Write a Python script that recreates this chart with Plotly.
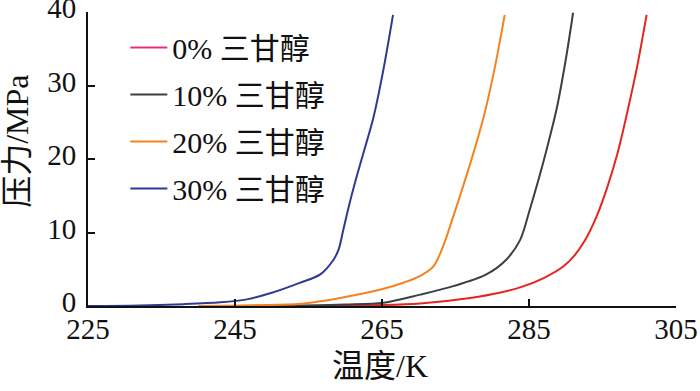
import plotly.graph_objects as go

# Data (temperature K, pressure MPa)
t_0 = [245, 255, 265, 270.2, 277, 281, 284, 287, 289.7, 291.2, 292.6, 294.2, 295.6, 297.1, 298.4, 299.7, 301]
p_0 = [0.0, 0.02, 0.12, 0.34, 1.1, 1.8, 2.6, 3.8, 5.4, 6.9, 8.9, 12.2, 16.0, 21.0, 26.5, 32.5, 39.6]

t_10 = [245, 255, 260, 265.2, 270.2, 274.7, 279.2, 281.9, 283.8, 285.1, 286.3, 287.4, 288.8, 290, 291]
p_10 = [0.0, 0.08, 0.2, 0.45, 1.55, 2.7, 4.3, 6.3, 9.0, 13.1, 17.2, 21.3, 27.0, 33.5, 39.9]

t_20 = [240, 248, 254, 259.3, 264.7, 268, 270.2, 272.0, 273.3, 274.7, 276.1, 277.5, 278.9, 280.3, 281.7]
p_20 = [0.0, 0.1, 0.3, 1.1, 2.2, 3.2, 4.1, 5.4, 8.1, 12.2, 16.5, 21.0, 26.0, 32.2, 39.6]

t_30 = [225, 232, 238, 243, 246.6, 250, 253.8, 256.6, 258.4, 259.1, 259.7, 260.5, 261.5, 262.7, 263.8, 265.2, 266.5]
p_30 = [0.0, 0.08, 0.25, 0.5, 0.9, 1.8, 3.15, 4.3, 6.3, 7.7, 10.2, 13.6, 17.4, 21.6, 25.5, 32.2, 39.6]

names = ["0% 三甘醇", "10% 三甘醇", "20% 三甘醇", "30% 三甘醇"]
x_ticks = [225, 245, 265, 285, 305]
y_ticks = [0, 10, 20, 30, 40]
x_title = "温度/K"
y_title = "压力/MPa"

curve_colors = ["#e3261f", "#3b4046", "#f5821f", "#2e3a8f"]
legend_colors = ["#e5317c", "#3b4046", "#f5821f", "#2e3a8f"]

series = [(t_0, p_0), (t_10, p_10), (t_20, p_20), (t_30, p_30)]

FONT = "Liberation Serif, Times New Roman, Noto Sans CJK SC, serif"

fig = go.Figure()
for i, (tx, py) in enumerate(series):
    fig.add_trace(go.Scatter(
        x=tx, y=py, mode="lines", name=names[i], showlegend=False,
        line=dict(color=curve_colors[i], width=2, shape="spline", smoothing=0.9),
        cliponaxis=False,
    ))
for i, nm in enumerate(names):
    fig.add_trace(go.Scatter(
        x=[None], y=[None], mode="lines", name=nm, legendgroup=f"g{i}",
        line=dict(color=legend_colors[i], width=2),
    ))

fig.update_layout(
    width=700, height=391,
    margin=dict(l=88, r=24, t=12, b=84.5, autoexpand=False),
    plot_bgcolor="white", paper_bgcolor="white",
    font=dict(family=FONT, size=28, color="#111"),
    showlegend=True,
    legend=dict(x=0.0635, y=0.968, xanchor="left", yanchor="top",
                bgcolor="rgba(0,0,0,0)", tracegroupgap=5, itemwidth=37,
                font=dict(size=30, family=FONT)),
    xaxis=dict(range=[225, 305], tickvals=x_ticks, ticks="inside", ticklen=7,
               tickwidth=1.5, tickcolor="#111", showline=True, linecolor="#111",
               linewidth=2, showgrid=False, zeroline=False, automargin=False,
               ticklabeloverflow="allow", ticklabelstandoff=-4,
               tickfont=dict(size=29, family=FONT)),
    yaxis=dict(range=[0, 40], tickvals=y_ticks, ticks="inside", ticklen=7,
               tickwidth=1.5, tickcolor="#111", showline=True, linecolor="#111",
               linewidth=2, showgrid=False, zeroline=False, automargin=False,
               ticklabeloverflow="allow", ticklabelstandoff=4, ticklabelshift=-4,
               tickfont=dict(size=29, family=FONT)),
    annotations=[
        dict(text=x_title, xref="paper", yref="paper", x=(380 - 88) / 588,
             y=-(367 - 306.5) / 294.5, xanchor="center", yanchor="middle",
             showarrow=False, font=dict(size=32, family=FONT)),
        dict(text=y_title, xref="paper", yref="paper", x=(17 - 88) / 588,
             y=(306.5 - 142) / 294.5, xanchor="center", yanchor="middle",
             textangle=-90, showarrow=False, font=dict(size=32, family=FONT)),
    ],
)

fig.write_html("out.html", config={"displayModeBar": False},
               post_script="document.body.style.margin='0';")
